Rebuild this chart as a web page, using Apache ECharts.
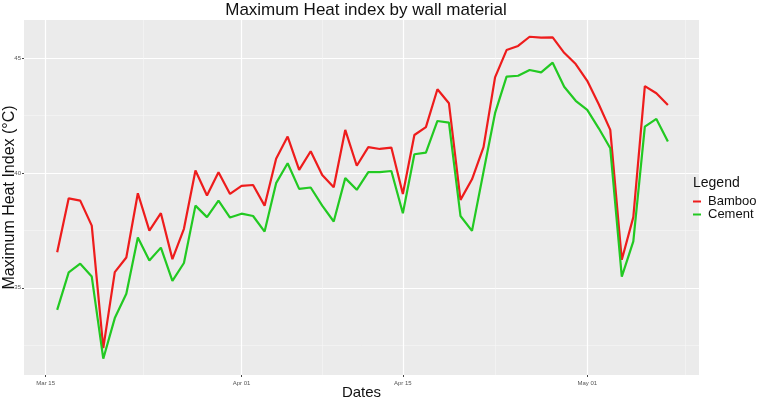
<!DOCTYPE html>
<html>
<head>
<meta charset="utf-8">
<script src="https://cdn.jsdelivr.net/npm/echarts@6/dist/echarts.min.js"></script>
<style>
  html, body { margin: 0; padding: 0; background: #fff; }
  #ec { width: 778px; height: 399px; }
</style>
</head>
<body>
<div id="ec"></div>
<script>
// daily dates (Mar 16 - May 8)
var dates = [
  "2021-03-16", "2021-03-17", "2021-03-18", "2021-03-19", "2021-03-20", "2021-03-21",
  "2021-03-22", "2021-03-23", "2021-03-24", "2021-03-25", "2021-03-26", "2021-03-27",
  "2021-03-28", "2021-03-29", "2021-03-30", "2021-03-31", "2021-04-01", "2021-04-02",
  "2021-04-03", "2021-04-04", "2021-04-05", "2021-04-06", "2021-04-07", "2021-04-08",
  "2021-04-09", "2021-04-10", "2021-04-11", "2021-04-12", "2021-04-13", "2021-04-14",
  "2021-04-15", "2021-04-16", "2021-04-17", "2021-04-18", "2021-04-19", "2021-04-20",
  "2021-04-21", "2021-04-22", "2021-04-23", "2021-04-24", "2021-04-25", "2021-04-26",
  "2021-04-27", "2021-04-28", "2021-04-29", "2021-04-30", "2021-05-01", "2021-05-02",
  "2021-05-03", "2021-05-04", "2021-05-05", "2021-05-06", "2021-05-07", "2021-05-08"
];

var bamboo = [
  36.55, 38.90, 38.80, 37.71, 32.37, 35.68, 36.32, 39.12, 37.49, 38.25,
  36.25, 37.57, 40.11, 39.02, 40.04, 39.09, 39.44, 39.48, 38.58, 40.62,
  41.59, 40.14, 40.95, 39.92, 39.38, 41.88, 40.32, 41.13, 41.05, 41.11,
  39.09, 41.66, 42.00, 43.65, 43.04, 38.83, 39.73, 41.13, 44.17, 45.36,
  45.54, 45.94, 45.90, 45.91, 45.24, 44.75, 44.02, 43.00, 41.88, 36.22,
  38.08, 43.79, 43.48, 42.97
];

var cement = [
  34.04, 35.67, 36.05, 35.49, 31.91, 33.68, 34.74, 37.19, 36.19, 36.75,
  35.30, 36.08, 38.58, 38.08, 38.80, 38.06, 38.23, 38.13, 37.45, 39.56,
  40.43, 39.31, 39.37, 38.58, 37.89, 39.78, 39.27, 40.04, 40.04, 40.09,
  38.25, 40.82, 40.89, 42.27, 42.20, 38.13, 37.48, 40.06, 42.61, 44.20,
  44.24, 44.49, 44.39, 44.81, 43.76, 43.15, 42.75, 41.95, 41.08, 35.49,
  37.02, 42.02, 42.36, 41.37
];

var xBreakDates = ["2021-03-15", "2021-04-01", "2021-04-15", "2021-05-01"];
var yBreaks = [35, 40, 45];
var yMinor = [32.5, 37.5, 42.5];

var DAY = 86400000;
function toTime(s) {
  var p = s.split("-");
  return new Date(+p[0], +p[1] - 1, +p[2]).getTime();
}
var xBreaks = xBreakDates.map(toTime);
// minor gridlines half way between the breaks
var xMinor = [];
for (var i = 0; i < xBreaks.length; i++) {
  var next = i + 1 < xBreaks.length ? xBreaks[i + 1] : xBreaks[i] + 17 * DAY;
  xMinor.push((xBreaks[i] + next) / 2);
}

var monthNames = ["Jan", "Feb", "Mar", "Apr", "May", "Jun", "Jul", "Aug", "Sep", "Oct", "Nov", "Dec"];
function fmtDate(v) {
  var d = new Date(v);
  var day = d.getDate();
  return monthNames[d.getMonth()] + " " + (day < 10 ? "0" + day : day);
}

var xMin = xBreaks[0] - 1.88 * DAY;
var xMax = xBreaks[0] + 56.7 * DAY;
var yMin = 31.2;
var yMax = 46.67;

var myChart = echarts.init(document.getElementById("ec"));

myChart.setOption({
  animation: false,
  backgroundColor: "#ffffff",
  textStyle: { fontFamily: "Liberation Sans" },
  title: [
    {
      text: "Maximum Heat index by wall material",
      left: 366,
      top: 2,
      padding: 0,
      textAlign: "center",
      textStyle: { fontSize: 17, fontWeight: "normal", color: "#111" }
    },
    {
      text: "Legend",
      left: 693,
      top: 176,
      padding: 0,
      textStyle: { fontSize: 14, fontWeight: "normal", color: "#111" }
    }
  ],
  legend: {
    orient: "vertical",
    left: 688,
    top: 190,
    icon: "rect",
    itemWidth: 8,
    itemHeight: 2,
    itemGap: 0,
    data: ["Bamboo", "Cement"],
    textStyle: { fontSize: 13, color: "#111", padding: [0, 0, 0, 2] }
  },
  grid: {
    left: 24,
    right: 79,
    top: 20,
    bottom: 24,
    outerBoundsMode: "none",
    containLabel: false,
    show: true,
    backgroundColor: "#ebebeb",
    borderWidth: 0
  },
  xAxis: [
    {
      type: "value",
      min: xMin,
      max: xMax,
      name: "Dates",
      nameLocation: "middle",
      nameGap: 10,
      nameMoveOverlap: false,
      nameTextStyle: { fontSize: 15, color: "#111" },
      axisLine: { show: false },
      axisTick: { show: true, length: 2, customValues: xBreaks, lineStyle: { color: "#444" } },
      axisLabel: {
        customValues: xBreaks,
        formatter: fmtDate,
        fontSize: 6,
        color: "#555",
        margin: 5
      },
      splitLine: { show: true, lineStyle: { color: "#ffffff", width: 1.2 } }
    },
    {
      type: "value",
      min: xMin,
      max: xMax,
      position: "bottom",
      axisLine: { show: false },
      axisTick: { show: false, customValues: xMinor },
      axisLabel: { show: false, customValues: xMinor },
      splitLine: { show: true, lineStyle: { color: "#f6f6f6", width: 0.6 } }
    }
  ],
  yAxis: [
    {
      type: "value",
      min: yMin,
      max: yMax,
      name: "Maximum Heat Index (°C)",
      nameLocation: "middle",
      nameRotate: 90,
      nameGap: 6,
      nameMoveOverlap: false,
      nameTextStyle: { fontSize: 16, color: "#111" },
      axisLine: { show: false },
      axisTick: { show: true, length: 2, customValues: yBreaks, lineStyle: { color: "#444" } },
      axisLabel: { customValues: yBreaks, fontSize: 6, color: "#555", margin: 3 },
      splitLine: { show: true, lineStyle: { color: "#ffffff", width: 1.2 } }
    },
    {
      type: "value",
      min: yMin,
      max: yMax,
      position: "left",
      axisLine: { show: false },
      axisTick: { show: false, customValues: yMinor },
      axisLabel: { show: false, customValues: yMinor },
      splitLine: { show: true, lineStyle: { color: "#f6f6f6", width: 0.6 } }
    }
  ],
  series: [
    {
      name: "Bamboo",
      type: "line",
      showSymbol: false,
      data: dates.map(function (d, i) { return [toTime(d), bamboo[i]]; }),
      itemStyle: { color: "#ee1c1c" },
      lineStyle: { color: "#ee1c1c", width: 2.2 }
    },
    {
      name: "Cement",
      type: "line",
      showSymbol: false,
      data: dates.map(function (d, i) { return [toTime(d), cement[i]]; }),
      itemStyle: { color: "#22c922" },
      lineStyle: { color: "#22c922", width: 2.2 }
    }
  ]
});
</script>
</body>
</html>
